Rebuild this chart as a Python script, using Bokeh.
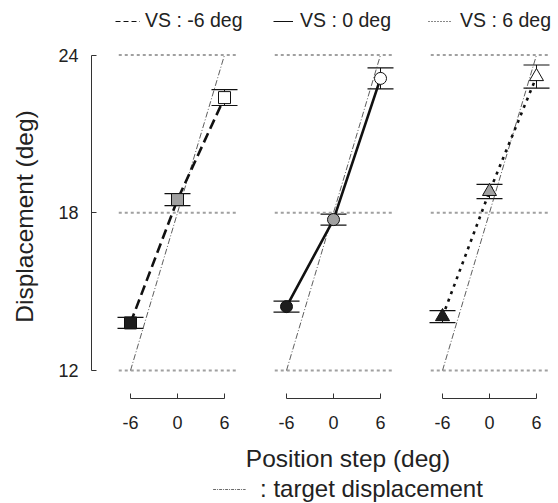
import numpy as np
from bokeh.plotting import figure
from bokeh.layouts import row, column
from bokeh.models import (Range1d, FixedTicker, ColumnDataSource, Whisker, TeeHead,
                          Legend, LegendItem, LinearAxis)
from bokeh.embed import file_html
from bokeh.resources import INLINE

# ---------------- data ----------------
steps = [-6, 0, 6]
vs_labels = ["VS : -6 deg", "VS : 0 deg", "VS : 6 deg"]
mean_vs_m6 = [13.81, 18.50, 22.38]
err_vs_m6 = [0.21, 0.23, 0.30]
mean_vs_0 = [14.43, 17.74, 23.11]
err_vs_0 = [0.21, 0.21, 0.40]
mean_vs_p6 = [14.05, 18.81, 23.18]
err_vs_p6 = [0.23, 0.27, 0.44]
target_steps = [-6, 6]
target_disp = [12, 24]
ref_levels = [12, 18, 24]
ref_span = [-7.5, 7.5]
fill_cols = ["#1e1e1e", "#a0a0a0", "#ffffff"]
y_ticks = [12, 18, 24]

FONT = "Liberation Sans"
TXT = "#222222"

y_rng = Range1d(10.935, 24.78)

panels = [
    dict(mean=mean_vs_m6, err=err_vs_m6, label=vs_labels[0], marker="square", size=12,
         dash="10 5", width=262, xr=(-10.979, 10.851), border_left=91,
         leg_x=115, glyph_w=25, standoff=5, leg_dash="5 3"),
    dict(mean=mean_vs_0, err=err_vs_0, label=vs_labels[1], marker="circle", size=12,
         dash="solid", width=164, xr=(-9.064, 11.872), border_left=0,
         leg_x=273, glyph_w=20, standoff=7, leg_dash="solid"),
    dict(mean=mean_vs_p6, err=err_vs_p6, label=vs_labels[2], marker="triangle", size=14,
         dash="3 5", width=132, xr=(-8.043, 8.809), border_left=0,
         leg_x=428, glyph_w=24, standoff=8, leg_dash="1 2"),
]

# top strip holding the three legend entries
f0 = figure(width=558, height=34, output_backend="svg", toolbar_location=None, title=None,
            x_range=Range1d(0, 1), y_range=Range1d(0, 1), x_axis_location=None,
            y_axis_location=None, min_border_left=0, min_border_right=0,
            min_border_top=0, min_border_bottom=0)
f0.outline_line_color = None
f0.xgrid.visible = False
f0.ygrid.visible = False

figs = []
for i, pd_ in enumerate(panels):
    p = figure(width=pd_["width"], height=406, output_backend="svg", toolbar_location=None,
               title=None, x_range=Range1d(*pd_["xr"]), y_range=y_rng,
               y_axis_location="left" if i == 0 else None,
               min_border_left=pd_["border_left"], min_border_right=0,
               min_border_top=0, min_border_bottom=42)
    p.outline_line_color = None
    p.xgrid.visible = False
    p.ygrid.visible = False
    p.background_fill_color = "white"
    p.border_fill_color = "white"

    # reference dotted lines
    p.segment(x0=[ref_span[0]] * 3, x1=[ref_span[1]] * 3, y0=ref_levels, y1=ref_levels,
              line_color="#a0a0a0", line_width=2, line_dash="3 3")
    # target displacement line
    p.line(target_steps, target_disp, line_color="#333333", line_width=0.8,
           line_dash="6 2 1 2")
    # data line
    p.line(steps, pd_["mean"], line_color="#111111", line_width=2.6,
           line_dash=pd_["dash"])
    # error bars
    upper = [m + e for m, e in zip(pd_["mean"], pd_["err"])]
    lower = [m - e for m, e in zip(pd_["mean"], pd_["err"])]
    src = ColumnDataSource(dict(x=steps, y=pd_["mean"], upper=upper, lower=lower, fc=fill_cols))
    wh = Whisker(source=src, base="x", upper="upper", lower="lower",
                 upper_head=TeeHead(size=26, line_width=1.2, line_color="#111111"),
                 lower_head=TeeHead(size=26, line_width=1.2, line_color="#111111"),
                 line_width=1, line_color="#111111")
    p.add_layout(wh)
    p.scatter("x", "y", source=src, marker=pd_["marker"], size=pd_["size"],
              fill_color="fc", line_color="#111111", line_width=1)

    # legend entry (thin sample line) in the top strip
    dummy = f0.line(x=[np.nan], y=[np.nan], line_color="#111111", line_width=1,
                    line_dash=pd_["leg_dash"])
    leg = Legend(items=[LegendItem(label=pd_["label"], renderers=[dummy])],
                 location=(pd_["leg_x"], 2), orientation="horizontal",
                 padding=0, margin=0, spacing=0, border_line_color=None,
                 background_fill_alpha=0, glyph_width=pd_["glyph_w"],
                 label_standoff=pd_["standoff"], label_text_font=FONT,
                 label_text_font_size="19.5px", label_text_color=TXT)
    f0.add_layout(leg)

    xa = p.xaxis[0]
    xa.bounds = (-6, 6)
    xa.ticker = FixedTicker(ticks=steps)
    xa.major_label_overrides = {s: str(s) for s in steps}
    xa.minor_tick_line_color = None
    xa.major_tick_in = 5
    xa.major_tick_out = 0
    xa.major_label_standoff = 17
    xa.axis_line_color = "#333333"
    xa.major_tick_line_color = "#333333"
    xa.major_label_text_font = FONT
    xa.major_label_text_font_size = "18px"
    xa.major_label_text_color = TXT

    if i == 0:
        ya = p.yaxis[0]
        ya.bounds = (12, 24)
        ya.ticker = FixedTicker(ticks=y_ticks)
        ya.minor_tick_line_color = None
        ya.major_tick_in = 5
        ya.major_tick_out = 0
        ya.major_label_standoff = 13
        ya.axis_line_color = "#333333"
        ya.major_tick_line_color = "#333333"
        ya.major_label_text_font = FONT
        ya.major_label_text_font_size = "18px"
        ya.major_label_text_color = TXT
        ya.axis_label = "Displacement (deg)"
        ya.axis_label_text_font = FONT
        ya.axis_label_text_font_size = "24.5px"
        ya.axis_label_text_font_style = "normal"
        ya.axis_label_text_color = TXT
        ya.axis_label_standoff = 17
    figs.append(p)

# bottom strip: common x label (axis above) and target legend inside the frame
f4 = figure(width=558, height=63, output_backend="svg", toolbar_location=None, title=None,
            x_range=Range1d(0, 1), y_range=Range1d(0, 1), x_axis_location=None,
            y_axis_location=None, min_border_left=137, min_border_right=0,
            min_border_top=34, min_border_bottom=0)
f4.outline_line_color = None
f4.xgrid.visible = False
f4.ygrid.visible = False
ax = LinearAxis(ticker=FixedTicker(ticks=[]), axis_line_color=None,
                major_tick_line_color=None, minor_tick_line_color=None,
                axis_label="Position step (deg)", axis_label_text_font=FONT,
                axis_label_text_font_size="24.5px", axis_label_text_font_style="normal",
                axis_label_text_color=TXT, axis_label_standoff=3)
f4.add_layout(ax, "above")
tdummy = f4.line(x=[np.nan], y=[np.nan], line_color="#444444", line_width=0.8,
                 line_dash="3 1 1 1")
tleg = Legend(items=[LegendItem(label=": target displacement", renderers=[tdummy])],
              location="center", orientation="horizontal", padding=0, margin=0,
              border_line_color=None, background_fill_alpha=0, glyph_width=33,
              label_standoff=15, label_text_font=FONT, label_text_font_size="24px",
              label_text_color=TXT)
f4.add_layout(tleg)

layout = column(row(f0), row(*figs, spacing=0), row(f4), spacing=0)
open("out.html", "w").write(file_html(layout, INLINE))
